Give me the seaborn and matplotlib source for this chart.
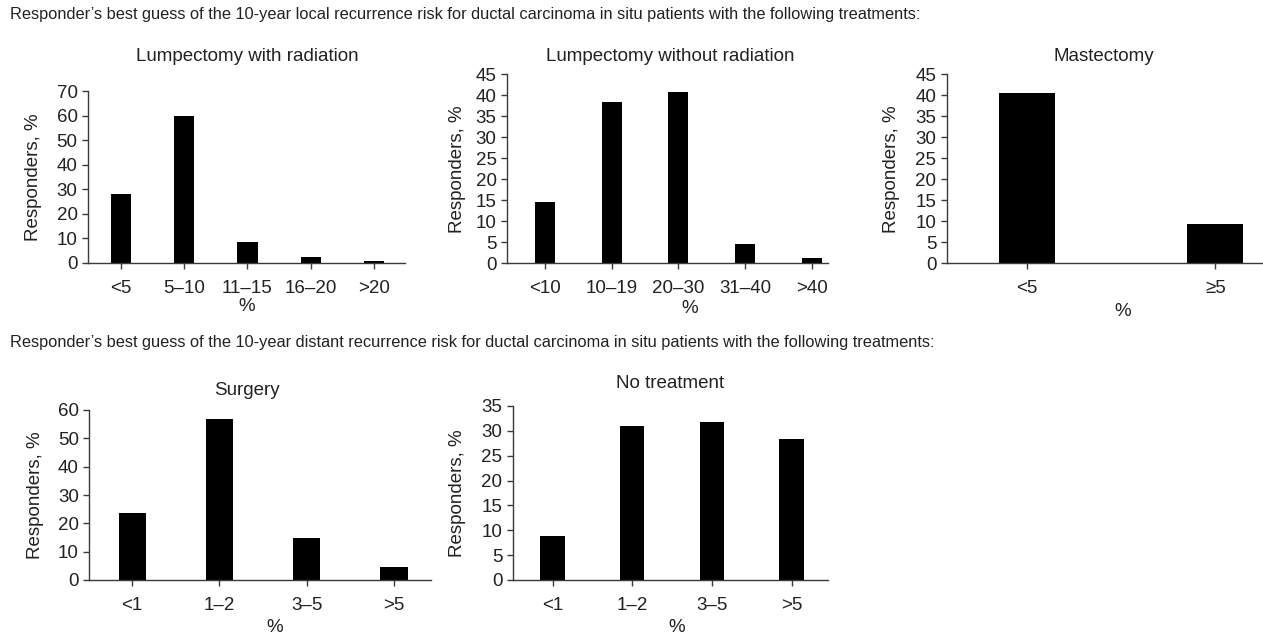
import matplotlib
matplotlib.use("Agg")
import matplotlib.pyplot as plt
import seaborn as sns
import pandas as pd

# ---- data ----
lwr_cats = ["<5", "5\u201310", "11\u201315", "16\u201320", ">20"]
lwr_vals = [28.1, 59.7, 8.7, 2.3, 0.7]

lwor_cats = ["<10", "10\u201319", "20\u201330", "31\u201340", ">40"]
lwor_vals = [14.7, 38.5, 40.9, 4.6, 1.2]

mast_cats = ["<5", "\u22655"]
mast_vals = [40.6, 9.4]

surg_cats = ["<1", "1\u20132", "3\u20135", ">5"]
surg_vals = [23.5, 56.9, 14.7, 4.5]

none_cats = ["<1", "1\u20132", "3\u20135", ">5"]
none_vals = [8.9, 31.0, 31.7, 28.4]

titles = ["Lumpectomy with radiation", "Lumpectomy without radiation", "Mastectomy",
          "Surgery", "No treatment"]
header1 = ("Responder\u2019s best guess of the 10-year local recurrence risk for ductal "
           "carcinoma in situ patients with the following treatments:")
header2 = ("Responder\u2019s best guess of the 10-year distant recurrence risk for ductal "
           "carcinoma in situ patients with the following treatments:")

sns.set_theme(style="ticks")
plt.rcParams["font.family"] = ["Liberation Sans", "DejaVu Sans"]
TXT = "#222222"
SP = "#3a3a3a"
FS = 13.5

W, H = 1263, 635
fig = plt.figure(figsize=(W / 100, H / 100), dpi=100)

def px_axes(l, r, t, b):
    return fig.add_axes([l / W, (H - b) / H, (r - l) / W, (b - t) / H])

panels = [
    # left, right, top, bottom, cats, vals, ymax, ystep, xlim, width,
    # title baseline (x,y), xlabel baseline (x,y), ylabel x
    (88, 405, 91, 263, lwr_cats, lwr_vals, 70, 10, (-0.52, 4.49), 0.32, (247, 61), (247, 311), 33),
    (507, 828, 74.3, 263.3, lwor_cats, lwor_vals, 45, 5, (-0.57, 4.245), 0.30, (670, 61), (690, 313), 458),
    (946.7, 1263, 74.3, 263.3, mast_cats, mast_vals, 45, 5, (-0.425, 1.253), 0.296, (1104, 61), (1123, 316), 892),
    (89.3, 430.7, 410, 580, surg_cats, surg_vals, 60, 10, (-0.49, 3.42), 0.31, (247, 395), (275, 632), 35),
    (512.7, 828.3, 406, 580, none_cats, none_vals, 35, 5, (-0.50, 3.46), 0.305, (670, 388.5), (677, 632), 458),
]

for i, (l, r, t, b, cats, vals, ymax, ystep, xlim, bw, tpos, xlp, ylx) in enumerate(panels):
    ax = px_axes(l, r, t, b)
    df = pd.DataFrame({"cat": cats, "val": vals})
    sns.barplot(data=df, x="cat", y="val", order=cats, color="black", saturation=1,
                width=bw, edgecolor="none", ax=ax)
    ax.set_xlim(*xlim)
    ax.set_ylim(0, ymax)
    ax.set_yticks(range(0, ymax + 1, ystep))
    sns.despine(ax=ax)
    for s in ["left", "bottom"]:
        ax.spines[s].set_color(SP)
        ax.spines[s].set_linewidth(1.0)
    ax.tick_params(axis="both", colors=SP, labelcolor=TXT, labelsize=FS, length=4.5, width=1.0)
    ax.tick_params(axis="x", pad=7.5)
    ax.tick_params(axis="y", pad=3)
    ax.set_xlabel("")
    ax.set_ylabel("")
    fig.text(xlp[0] / W, 1 - xlp[1] / H, "%", fontsize=FS, color=TXT, ha="center", va="baseline")
    fig.text(ylx / W, 1 - ((t + b) / 2) / H, "Responders, %", rotation=90, fontsize=FS,
             color=TXT, ha="center", va="center")
    fig.text(tpos[0] / W, 1 - tpos[1] / H, titles[i], fontsize=FS, color=TXT,
             ha="center", va="baseline")

fig.text(10 / W, 1 - 15 / H, header1, fontsize=11.8, color=TXT, ha="left", va="center")
fig.text(10 / W, 1 - 343 / H, header2, fontsize=11.8, color=TXT, ha="left", va="center")

fig.savefig("out.png", dpi=100, facecolor="white")
